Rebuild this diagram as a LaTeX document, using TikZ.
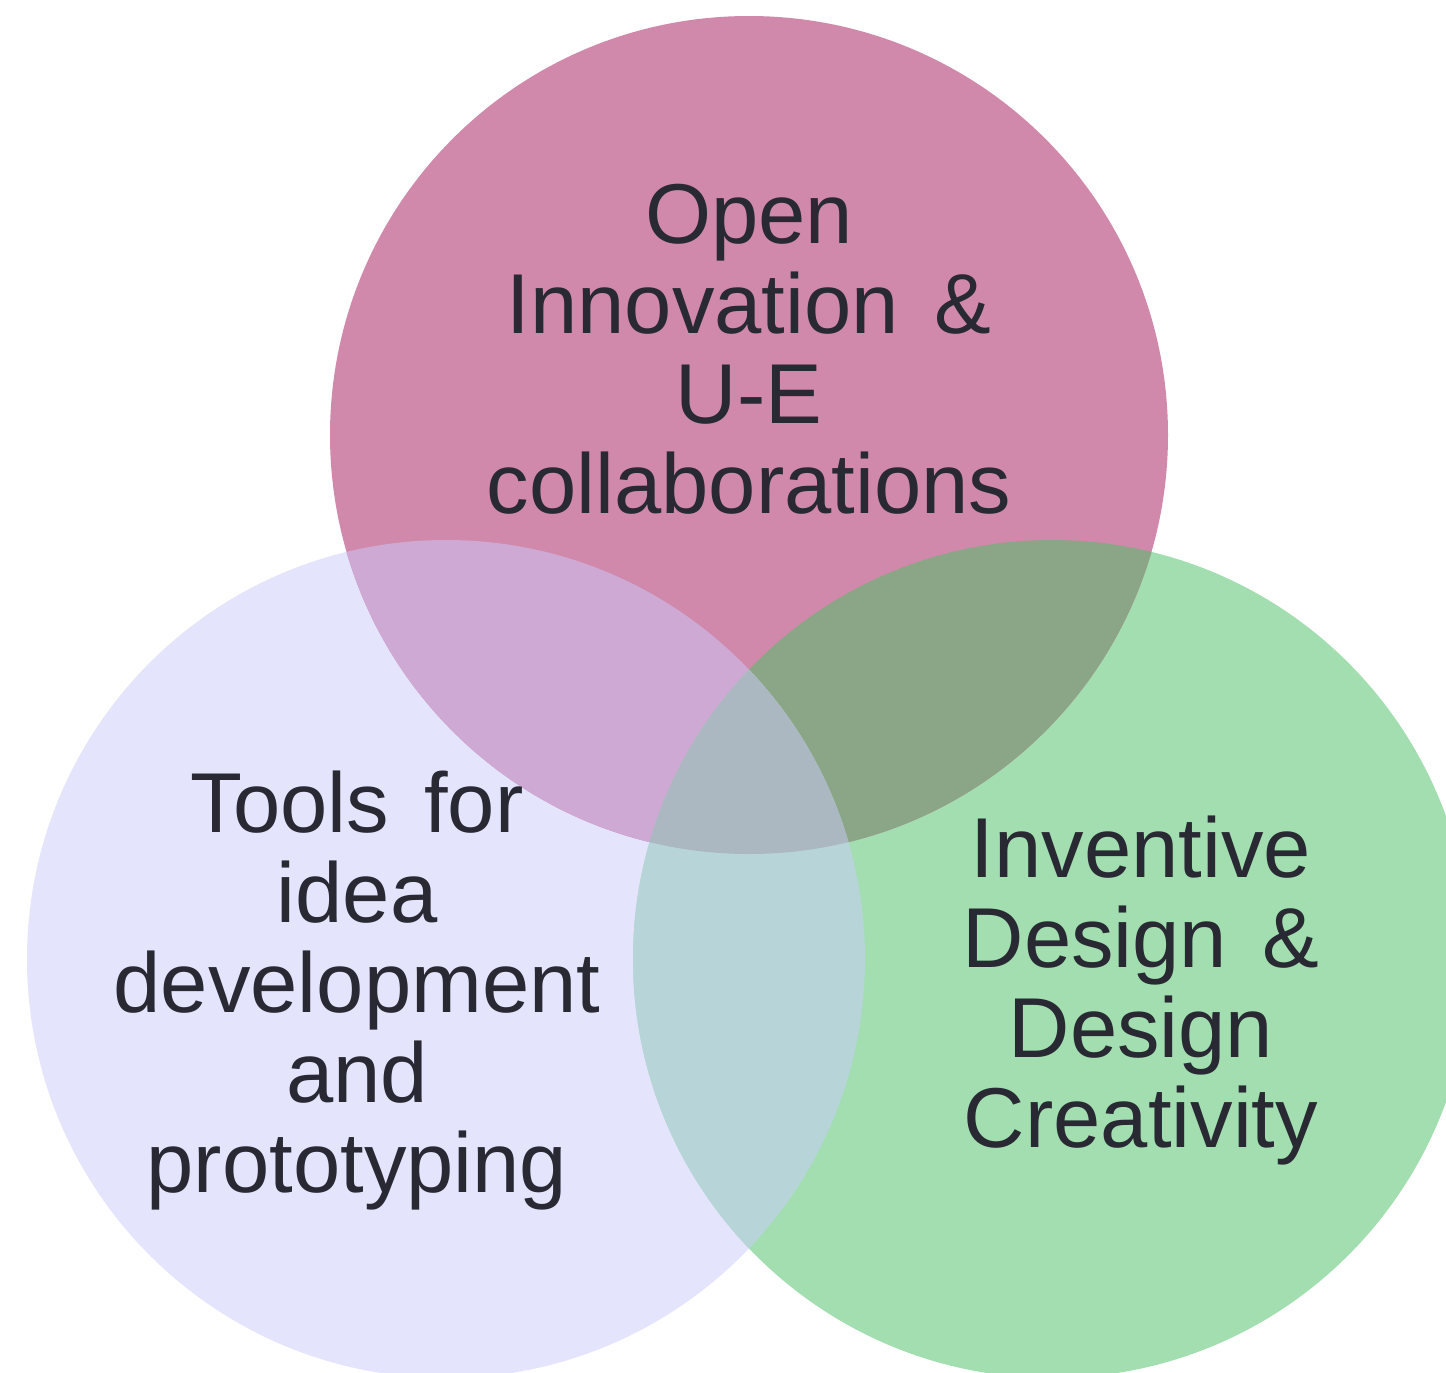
\documentclass[tikz,border=0pt]{standalone}
\usepackage{fontspec}
\setmainfont[WordSpace=1.5]{Liberation Sans}
\definecolor{pinkset}{HTML}{D089AB}
\definecolor{lavset}{HTML}{E4E4FD}
\definecolor{greenset}{HTML}{A2DEB0}
\definecolor{pinklav}{HTML}{CDA9D4}
\definecolor{pinkgreen}{HTML}{8BA687}
\definecolor{lavgreen}{HTML}{B7D5D8}
\definecolor{allthree}{HTML}{ABB8C2}
\definecolor{labelink}{HTML}{282933}
\begin{document}
\begin{tikzpicture}[x=1pt,y=-1pt,
  setlabel/.style={anchor=base,inner sep=0pt,text=labelink,
    font=\fontsize{85}{90}\selectfont}]
  \useasboundingbox (0,0) rectangle (1446,1373);
  \fill[white] (0,0) rectangle (1446,1373);
  \clip (0,0) rectangle (1446,1373);
  % set centres
  \coordinate (ctop) at (749,435);
  \coordinate (cleft) at (446,959);
  \coordinate (cright) at (1052,959);
  \def\rad{419}
  % single sets
  \fill[lavset] (cleft) circle[radius=\rad];
  \fill[greenset] (cright) circle[radius=\rad];
  \fill[pinkset] (ctop) circle[radius=\rad];
  % pairwise overlaps
  \begin{scope}
    \clip (ctop) circle[radius=\rad];
    \fill[pinklav] (cleft) circle[radius=\rad];
    \fill[pinkgreen] (cright) circle[radius=\rad];
  \end{scope}
  \begin{scope}
    \clip (cleft) circle[radius=\rad];
    \fill[lavgreen] (cright) circle[radius=\rad];
  \end{scope}
  % triple overlap
  \begin{scope}
    \clip (ctop) circle[radius=\rad];
    \clip (cleft) circle[radius=\rad];
    \fill[allthree] (cright) circle[radius=\rad];
  \end{scope}
  % labels
  \node[setlabel] (ltop) at (749,243)
    {\begin{tabular}[t]{@{}c@{}}Open\\Innovation \&\\U-E\\collaborations\end{tabular}};
  \node[setlabel] (lleft) at (357,832)
    {\begin{tabular}[t]{@{}c@{}}Tools for\\idea\\development\\and\\prototyping\end{tabular}};
  \node[setlabel] (lright) at (1141,877)
    {\begin{tabular}[t]{@{}c@{}}Inventive\\Design \&\\Design\\Creativity\end{tabular}};
\end{tikzpicture}
\end{document}
